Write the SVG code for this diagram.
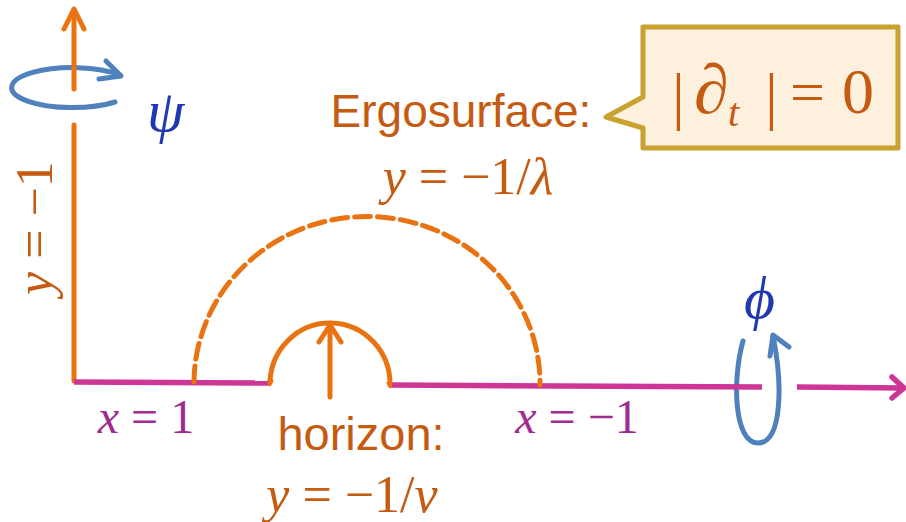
<svg xmlns="http://www.w3.org/2000/svg" width="906" height="522" viewBox="0 0 906 522">
  <style>
    .or { stroke: #e97311; stroke-width: 5; fill: none; stroke-linecap: round; stroke-linejoin: round; }
    .mg { stroke: #cd3597; stroke-width: 5.5; fill: none; }
    .bl { stroke: #4f81bd; stroke-width: 5; fill: none; stroke-linecap: round; stroke-linejoin: round; }
    .math { font-family: "Liberation Serif", "DejaVu Serif", serif; }
    .it { font-style: italic; }
    .sans { font-family: "Liberation Sans", Arial, sans-serif; }
    .torange { fill: #c55a11; }
    .tmag { fill: #a02a8f; }
    .tblue { fill: #2038b0; }
  </style>
  <rect width="906" height="522" fill="#ffffff"/>

  <g id="connectors">
    <g id="psi-rotation">
      <path class="bl" d="M 115 102 A 61 20 0 1 1 120 75"/>
      <polyline class="bl" points="106,61 121,76 99,79"/>
    </g>
    <g id="axis-y">
      <line class="or" x1="74" y1="10" x2="74" y2="89"/>
      <line class="or" x1="74" y1="125" x2="74" y2="381"/>
      <polyline class="or" points="64,29 74,9 84,29"/>
    </g>
    <g id="phi-rotation">
      <path class="bl" d="M 743 341 C 732 380 734 443 758 443 C 782 443 783 385 773 336"/>
      <polyline class="bl" points="770,356 773,335 789,347"/>
    </g>
    <g id="axis-x">
      <line class="mg" x1="74" y1="382" x2="270" y2="383"/>
      <line class="mg" x1="390" y1="385" x2="762" y2="387"/>
      <line class="mg" x1="797" y1="387" x2="903" y2="388"/>
      <polyline class="mg" points="892,377 904,388 892,398" stroke-linecap="round" stroke-linejoin="round"/>
    </g>
  </g>

  <g id="ergosurface">
    <path class="or" d="M 194 382 A 173 167 0 0 1 540 385" stroke-dasharray="16 7" stroke-linecap="butt" stroke-width="6.5"/>
  </g>

  <g id="horizon">
    <path class="or" d="M 270 383 A 60 61 0 0 1 390 385"/>
    <polygon points="267,380 274,380 270,387" fill="#e97311"/>
    <polygon points="386,382 393,382 390,389" fill="#e97311"/>
    <line class="or" x1="330" y1="397" x2="330" y2="326"/>
    <polyline class="or" points="319,342 330,325 341,342"/>
  </g>

  <g id="label-y-axis">
    <text class="math torange" font-size="52" text-anchor="middle" transform="translate(52,228) rotate(-90)"><tspan class="it">y</tspan> = −1</text>
  </g>

  <g id="label-psi">
    <text class="math it tblue" x="147" y="131" font-size="60">ψ</text>
  </g>

  <g id="label-phi">
    <text class="math it tblue" x="744" y="318" font-size="60">ϕ</text>
  </g>

  <g id="label-x1">
    <text class="math tmag" x="146" y="433" font-size="48" text-anchor="middle"><tspan class="it">x</tspan> = 1</text>
  </g>

  <g id="label-xm1">
    <text class="math tmag" x="577" y="433" font-size="48" text-anchor="middle"><tspan class="it">x</tspan> = −1</text>
  </g>

  <g id="label-ergosurface">
    <text class="sans torange" x="461" y="127" font-size="46" text-anchor="middle">Ergosurface:</text>
    <text class="math torange" x="468" y="194" font-size="52" text-anchor="middle"><tspan class="it">y</tspan> = −1/<tspan class="it">λ</tspan></text>
  </g>

  <g id="label-horizon">
    <text class="sans torange" x="361" y="450" font-size="47" text-anchor="middle">horizon:</text>
    <text class="math torange" x="352" y="512" font-size="52" text-anchor="middle"><tspan class="it">y</tspan> = −1/<tspan class="it">ν</tspan></text>
  </g>

  <g id="callout">
    <path d="M 643 27 L 898 27 L 898 148 L 643 148 L 643 128 L 606 117 L 643 97 Z" fill="#fdf0dc" stroke="#c9a230" stroke-width="5" stroke-linejoin="round"/>
    <g class="math torange">
      <text x="672" y="117" font-size="64">|</text>
      <text class="it" x="694" y="113" font-size="70">∂</text>
      <text class="it" x="728" y="126" font-size="40">t</text>
      <text x="765" y="117" font-size="64">|</text>
      <text x="790" y="113" font-size="62">=</text>
      <text x="842" y="113" font-size="64">0</text>
    </g>
  </g>
</svg>
